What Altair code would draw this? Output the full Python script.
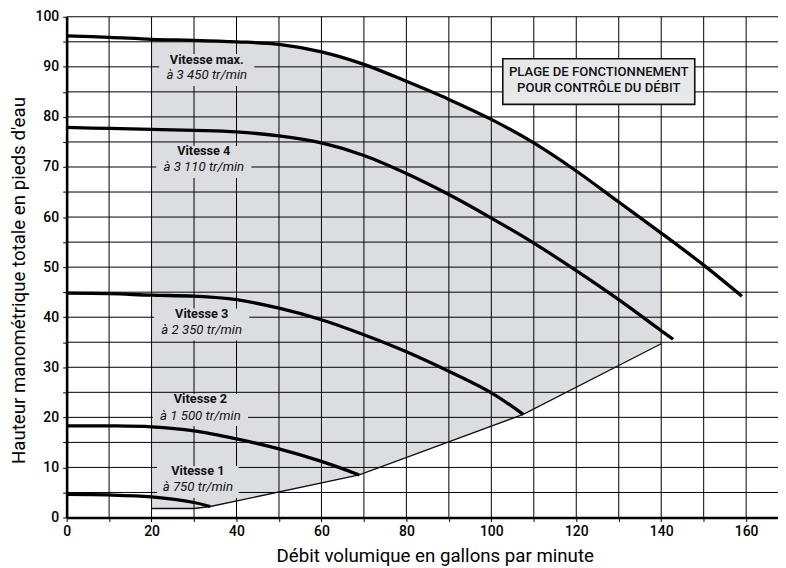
import altair as alt
import pandas as pd

FONT = "Roboto"
GRAY = "#dcdde0"
BOXFILL = "#e7e8ea"
INK = "#111111"

# ---- pump curves (débit gpm, hauteur pi) ----
max_x = [0, 10, 20, 30, 40, 50, 60, 70, 80, 90, 100, 110, 120, 130, 140, 150, 159]
max_y = [96.2, 95.9, 95.5, 95.3, 95.0, 94.5, 93.0, 90.5, 87.1, 83.5, 79.5, 74.8, 69.2, 63.0, 56.8, 50.4, 44.2]

v4_x = [0, 10, 20, 30, 40, 50, 60, 70, 80, 90, 100, 110, 120, 130, 140, 142.8]
v4_y = [77.9, 77.7, 77.5, 77.3, 77.0, 76.2, 74.8, 72.3, 68.7, 64.5, 59.8, 54.8, 49.3, 43.5, 37.3, 35.6]

v3_x = [0, 10, 20, 30, 40, 50, 60, 70, 80, 90, 100, 107.5]
v3_y = [44.8, 44.7, 44.4, 44.2, 43.5, 41.8, 39.5, 36.5, 33.1, 29.2, 24.9, 20.6]

v2_x = [0, 10, 20, 30, 40, 50, 60, 68.9]
v2_y = [18.3, 18.3, 18.1, 17.3, 15.7, 13.7, 11.2, 8.5]

v1_x = [0, 10, 20, 30, 33.8]
v1_y = [4.6, 4.5, 4.1, 3.0, 2.2]

# ---- operating range (plage de fonctionnement) ----
env_x = max_x[2:15]          # 20 .. 140 along the max-speed curve
env_y = max_y[2:15]
low_x = [20, 30, 33.8, 68.9, 107.5, 140]
low_y = [1.8, 1.8, 2.2, 8.5, 20.6, 34.7]

# ---- grid / ticks ----
x_ticks = list(range(0, 161, 10))
y_ticks = list(range(0, 101, 5))
x_grid = list(range(10, 161, 10))
y_grid = list(range(5, 101, 5))

# ---- labels ----
lab_title = ["Vitesse max.", "Vitesse 4", "Vitesse 3", "Vitesse 2", "Vitesse 1"]
lab_rpm = ["à 3 450 tr/min", "à 3 110 tr/min", "à 2 350 tr/min", "à 1 500 tr/min", "à 750 tr/min"]
lab_x = [33.0, 32.3, 31.8, 31.5, 30.9]
lab_y1 = [91.3, 73.1, 40.7, 23.6, 9.2]
lab_y2 = [88.4, 69.9, 37.4, 20.3, 6.0]

box_lines = ["PLAGE DE FONCTIONNEMENT", "POUR CONTRÔLE DU DÉBIT"]
box_x = [102.7, 147.9]
box_y = [82.5, 91.6]
box_line_y = [89.0, 85.8]

# ---- tables ----
rows = []
for name, xs_, ys_ in [("max", max_x, max_y), ("v4", v4_x, v4_y), ("v3", v3_x, v3_y),
                       ("v2", v2_x, v2_y), ("v1", v1_x, v1_y)]:
    for a, b in zip(xs_, ys_):
        rows.append({"series": name, "x": a, "y": b})
df_curves = pd.DataFrame(rows)
df_env = pd.DataFrame({"x": env_x, "y": env_y})
df_low = pd.DataFrame({"x": low_x, "y": low_y})
df_gx = pd.DataFrame({"x": x_grid})
df_gy = pd.DataFrame({"y": y_grid})

lab_rows = []
for t, r, lx, a, b in zip(lab_title, lab_rpm, lab_x, lab_y1, lab_y2):
    hw = 0.8 * max(len(t), len(r))
    mid = (a + b) / 2 - 0.5
    lab_rows.append({"title": t, "rpm": r, "x": lx, "y1": a, "y2": b,
                     "rx": lx - hw, "rx2": lx + hw, "ry": mid - 3.2, "ry2": mid + 3.2})
df_lab = pd.DataFrame(lab_rows)
df_box = pd.DataFrame({"x": [box_x[0]], "x2": [box_x[1]], "y": [box_y[0]], "y2": [box_y[1]]})
df_boxtxt = pd.DataFrame({"t": box_lines, "x": [(box_x[0] + box_x[1]) / 2] * 2, "y": box_line_y})

# ---- scales & axes ----
xs = alt.Scale(domain=[0, 167.5], nice=False, zero=False)
ys = alt.Scale(domain=[0, 100], nice=False, zero=False)

x_axis = alt.Axis(
    values=x_ticks, labelExpr="datum.value % 20 == 0 ? datum.label : ''",
    grid=False, domainWidth=2.6, domainColor="black", tickColor="black",
    tickSize=4, tickWidth=1, labelFont=FONT, labelFontSize=14, labelFontWeight=500,
    labelColor="black", labelPadding=3, labelFlush=False, labelOverlap=False,
    title="Débit volumique en gallons par minute", titleFont=FONT, titleFontSize=18.8,
    titleFontWeight="normal", titleColor="black", titleX=370.5, titleY=44,
    titleBaseline="alphabetic", titleAlign="center", zindex=1,
)
y_axis = alt.Axis(
    values=y_ticks, labelExpr="datum.value % 10 == 0 ? datum.label : ''",
    grid=False, domainWidth=2.6, domainColor="black", tickColor="black",
    tickSize=4, tickWidth=1, labelFont=FONT, labelFontSize=14, labelFontWeight=500,
    labelColor="black", labelPadding=4, labelFlush=False, labelOverlap=False,
    title="Hauteur manométrique totale en pieds d'eau", titleFont=FONT, titleFontSize=18.8,
    titleFontWeight="normal", titleColor="black", titleX=-42, titleY=265,
    titleAngle=270, titleBaseline="alphabetic", titleAlign="center", zindex=1,
)


def X(f):
    return alt.X(f, type="quantitative", scale=xs, axis=x_axis)


def Y(f):
    return alt.Y(f, type="quantitative", scale=ys, axis=y_axis)


area_gray = alt.Chart(df_env).mark_area(color=GRAY, interpolate="catmull-rom").encode(x=X("x"), y=Y("y"))
area_white = alt.Chart(df_low).mark_area(color="white").encode(x=X("x"), y=Y("y"))
grid_v = alt.Chart(df_gx).mark_rule(color="#000000", strokeWidth=1).encode(x=X("x"))
grid_h = alt.Chart(df_gy).mark_rule(color="#000000", strokeWidth=1).encode(y=Y("y"))
lab_bg = alt.Chart(df_lab).mark_rect(color=GRAY).encode(x=X("rx"), x2="rx2", y=Y("ry"), y2="ry2")
box = alt.Chart(df_box).mark_rect(fill=BOXFILL, stroke=INK, strokeWidth=1.6).encode(
    x=X("x"), x2="x2", y=Y("y"), y2="y2")
low_line = alt.Chart(df_low).mark_line(color=INK, strokeWidth=1.3).encode(x=X("x"), y=Y("y"))
curves = alt.Chart(df_curves).mark_line(color="black", strokeWidth=3.3, interpolate="catmull-rom",
                                        strokeCap="butt").encode(
    x=X("x"), y=Y("y"), detail="series:N")
t1 = alt.Chart(df_lab).mark_text(font=FONT, fontSize=12.8, fontWeight="bold", color=INK,
                                 align="center", baseline="middle").encode(
    x=X("x"), y=Y("y1"), text="title:N")
t2 = alt.Chart(df_lab).mark_text(font=FONT, fontSize=13.3, fontStyle="italic", color=INK,
                                 align="center", baseline="middle").encode(
    x=X("x"), y=Y("y2"), text="rpm:N")
tb = alt.Chart(df_boxtxt).mark_text(font=FONT, fontSize=13.2, fontWeight=500, color=INK,
                                    align="center", baseline="middle").encode(
    x=X("x"), y=Y("y"), text="t:N")

chart = alt.layer(area_gray, area_white, grid_v, grid_h, lab_bg, box, low_line, curves, t1, t2, tb).properties(
    width=716, height=504,
    autosize=alt.AutoSizeParams(type="none"),
    padding={"left": 59, "top": 7, "right": 0, "bottom": 49},
    background="white",
).configure_view(stroke=None)

chart.save("out.html", embed_options={"renderer": "svg", "actions": False})
